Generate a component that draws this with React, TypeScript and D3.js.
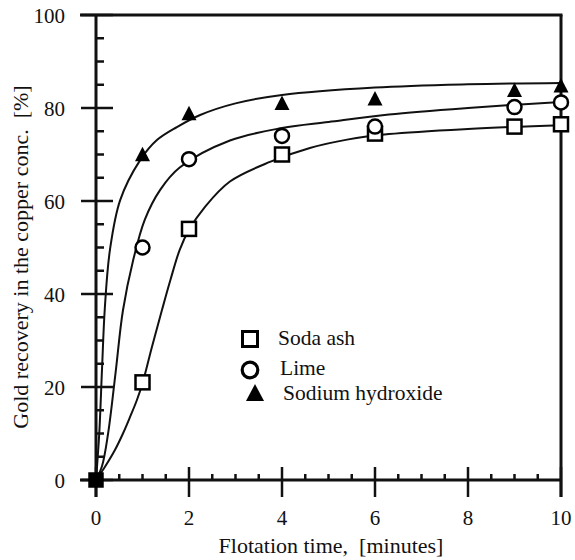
import React from "react";
import * as d3 from "d3";

const W = 575;
const H = 560;

// Measured data points (time [min], recovery [%])
const sodaAshPoints: [number, number][] = [
  [1, 21], [2, 54], [4, 70], [6, 74.5], [9, 76], [10, 76.5],
];
const limePoints: [number, number][] = [
  [1, 50], [2, 69], [4, 74], [6, 76], [9, 80.2], [10, 81.2],
];
const naohPoints: [number, number][] = [
  [1, 70], [2, 78.8], [4, 81], [6, 82], [9, 83.8], [10, 84.8],
];
const originPoint: [number, number] = [0, 0];

// Fitted curves
const sodaAshCurve: [number, number][] = [
  [0, 0], [0.19, 2.8], [0.41, 6.5], [0.58, 10], [0.73, 13.5], [0.88, 17.2], [1, 20.8],
  [1.2, 28.5], [1.42, 36.6], [1.6, 43], [1.8, 49.5], [2, 53.8], [2.34, 58.7], [2.88, 64.2],
  [3.74, 68.4], [4.6, 71.4], [5.4, 73.2], [6.3, 74.4], [8, 75.5], [10, 76.3],
];
const limeCurve: [number, number][] = [
  [0, 0], [0.13, 3], [0.26, 10], [0.42, 23], [0.58, 36.5], [0.8, 47.3], [1.05, 56],
  [1.38, 62.4], [1.8, 67.2], [2.88, 73], [4, 75.7], [5, 77], [6.3, 78.6], [8, 80], [10, 81.3],
];
const naohCurve: [number, number][] = [
  [0, 0], [0.07, 10], [0.13, 24], [0.19, 37], [0.3, 49.5], [0.52, 60.2], [0.95, 68.8],
  [1.31, 73.1], [1.74, 75.9], [2.24, 78.5], [3, 81], [4, 82.8], [6, 84.4], [8, 85.1], [10, 85.4],
];

const xMajorTicks = [0, 2, 4, 6, 8, 10];
const yMajorTicks = [0, 20, 40, 60, 80, 100];
const legendLabels = ["Soda ash", "Lime", "Sodium hydroxide"];
const xTitle = "Flotation time,  [minutes]";
const yTitle = "Gold recovery in the copper conc.  [%]";

const FONT = "Liberation Serif";

export default function App() {
  const x = d3.scaleLinear().domain([0, 10]).range([96, 561]);
  const y = d3.scaleLinear().domain([0, 100]).range([480, 15]);

  const line = d3
    .line<[number, number]>()
    .x((d) => x(d[0]))
    .y((d) => y(d[1]))
    .curve(d3.curveCatmullRom.alpha(0.5));

  const xMinor = d3.range(0, 10.001, 0.5).filter((v) => Math.abs(v % 2) > 1e-6);
  const yMinor = d3.range(0, 100.001, 5).filter((v) => Math.abs(v % 20) > 1e-6);

  const sq = (cx: number, cy: number, s: number, fill = "white", key?: any, sw = 2.5) => (
    <rect key={key} x={cx - s / 2} y={cy - s / 2} width={s} height={s} fill={fill} stroke="black" strokeWidth={sw} />
  );
  const circ = (cx: number, cy: number, r: number, key?: any, sw = 2.5) => (
    <circle key={key} cx={cx} cy={cy} r={r} fill="white" stroke="black" strokeWidth={sw} />
  );
  const tri = (cx: number, cy: number, s: number, key?: any) => {
    const h = s * 0.9;
    return (
      <path
        key={key}
        d={`M${cx},${cy - h / 2 - 1}L${cx + s / 2},${cy + h / 2}L${cx - s / 2},${cy + h / 2}Z`}
        fill="black"
      />
    );
  };

  const stroke = "#111";
  const txt = { fontFamily: FONT, fill: "#111", whiteSpace: "pre" } as React.CSSProperties;

  return (
    <svg width={W} height={H} style={{ position: "absolute", left: 0, top: 0, background: "white" }}>
      <rect width={W} height={H} fill="white" />
      {/* curves */}
      {[sodaAshCurve, limeCurve, naohCurve].map((c, i) => (
        <path key={i} d={line(c) || ""} fill="none" stroke={stroke} strokeWidth={2} />
      ))}

      {/* axes frame */}
      <line x1={x(0)} x2={x(0)} y1={y(100)} y2={y(0) + 17} stroke={stroke} strokeWidth={3} />
      <line x1={x(0) - 16} x2={x(10)} y1={y(0)} y2={y(0)} stroke={stroke} strokeWidth={3} />
      <line x1={x(10)} x2={x(10)} y1={y(100)} y2={y(0) + 17} stroke={stroke} strokeWidth={3} />
      <line x1={x(0) - 16} x2={x(10) + 1.5} y1={y(100)} y2={y(100)} stroke={stroke} strokeWidth={3} />

      {/* y ticks */}
      {yMajorTicks.map((v) => (
        <g key={"ym" + v}>
          <line x1={x(0) - 15} x2={x(0) + 17} y1={y(v)} y2={y(v)} stroke={stroke} strokeWidth={2.5} />
          <text x={65} y={y(v) + 8} textAnchor="end" style={{ ...txt, fontSize: 21 }}>
            {v}
          </text>
        </g>
      ))}
      {yMinor.map((v) => (
        <line key={"yn" + v} x1={x(0)} x2={x(0) + 8} y1={y(v)} y2={y(v)} stroke={stroke} strokeWidth={2.5} />
      ))}

      {/* x ticks */}
      {xMajorTicks.map((v) => (
        <g key={"xm" + v}>
          <line x1={x(v)} x2={x(v)} y1={y(0) - 13} y2={y(0) + 17} stroke={stroke} strokeWidth={2.5} />
          <text x={x(v)} y={525} textAnchor="middle" style={{ ...txt, fontSize: 21 }}>
            {v}
          </text>
        </g>
      ))}
      {xMinor.map((v) => (
        <line key={"xn" + v} x1={x(v)} x2={x(v)} y1={y(0)} y2={y(0) - 6} stroke={stroke} strokeWidth={2.5} />
      ))}

      {/* markers */}
      {sodaAshPoints.map((p, i) => sq(x(p[0]), y(p[1]), 14, "white", "s" + i))}
      {limePoints.map((p, i) => circ(x(p[0]), y(p[1]), 7, "c" + i))}
      {naohPoints.map((p, i) => tri(x(p[0]), y(p[1]), 15, "t" + i))}
      {sq(x(originPoint[0]), y(originPoint[1]), 13, "black", "origin")}

      {/* legend */}
      {sq(250, 339, 15, "white", "ls", 3)}
      {circ(250, 370, 7.8, "lc", 3.2)}
      {tri(255, 393, 18, "lt")}
      <text x={278} y={345} style={{ ...txt, fontSize: 21.5 }}>{legendLabels[0]}</text>
      <text x={280} y={375} style={{ ...txt, fontSize: 21.5 }}>{legendLabels[1]}</text>
      <text x={283} y={400} style={{ ...txt, fontSize: 21.5 }}>{legendLabels[2]}</text>

      {/* titles */}
      <text x={331} y={553} textAnchor="middle" style={{ ...txt, fontSize: 22 }}>
        {xTitle}
      </text>
      <text transform={`translate(28,257) rotate(-90)`} textAnchor="middle" style={{ ...txt, fontSize: 22 }}>
        {yTitle}
      </text>
    </svg>
  );
}
